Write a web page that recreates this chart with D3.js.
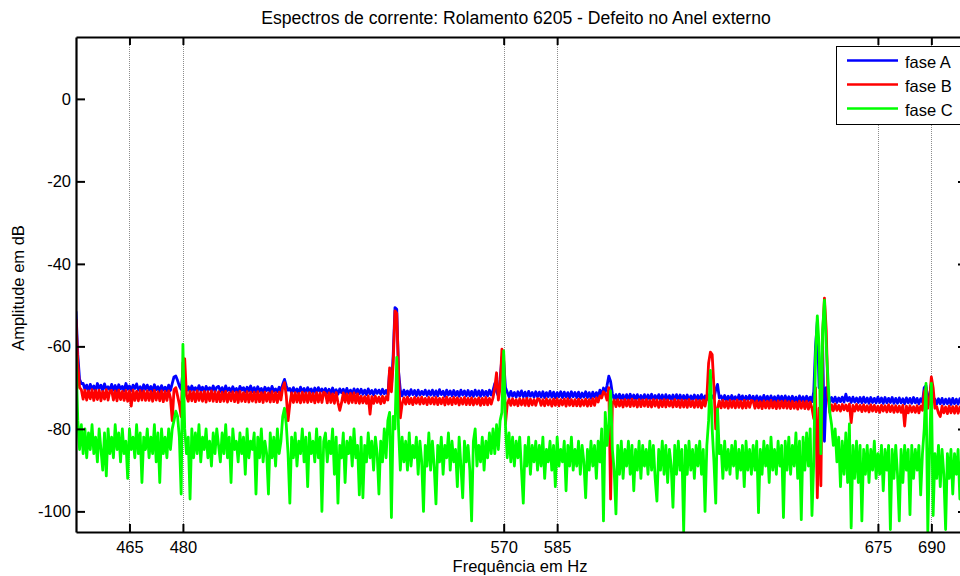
<!DOCTYPE html>
<html>
<head>
<meta charset="utf-8">
<script src="https://cdn.jsdelivr.net/npm/d3@7"></script>
<style>
  body { margin: 0; background: #fff; }
  text { font-family: "Liberation Sans", Arial, Helvetica, sans-serif; fill: #000; }
</style>
</head>
<body>
<svg id="chart" width="960" height="576"></svg>
<script>
// Spectrum sampling grid (Hz)
const freqStart = 450;
const freqStep = 0.5;

// Amplitude in dB, one row per 10 Hz
const faseA = [
  -51.5,-62,-68,-69,-69,-70.4,-69.4,-70.9,-69.2,-70.4,-69.6,-70.8,-69,-70.2,-69.4,-70.7,-69.1,-70.4,-69.8,-70.6,
  -69.2,-70.6,-69.5,-70.9,-69.3,-70.3,-69.7,-70.8,-69,-70.4,-69.6,-70.7,-69.4,-70.2,-69.1,-70.6,-69.8,-70.9,-69.3,-70.4,
  -69.4,-70.6,-69.7,-70.9,-69.3,-70.5,-69.8,-71,-69.5,-70.6,-69.9,-70.8,-69.4,-70.7,-69,-67.4,-67.2,-68.3,-69.6,-70.4,
  -66,-70,-70.7,-69.8,-71,-69.6,-70.6,-70,-70.9,-69.5,-70.7,-69.9,-71.1,-69.7,-70.6,-70,-70.8,-69.6,-70.9,-69.9,
  -69.7,-70.9,-70,-71.2,-69.6,-70.7,-70.1,-71,-69.8,-70.8,-70.2,-71.3,-69.7,-70.6,-70,-71.1,-69.9,-70.8,-69.6,-71,
  -70,-71.1,-69.8,-70.9,-70.2,-71.3,-69.9,-70.7,-70.1,-71.2,-69.7,-70.9,-70.3,-71,-69.9,-70.8,-69.2,-68,-69.6,-70.6,
  -70.2,-71.3,-70,-71.1,-70.3,-71.4,-69.9,-71,-70.2,-71.3,-70,-70.9,-70.3,-71.5,-70.1,-71.2,-70,-71,-70.3,-71.3,
  -70.2,-71.4,-70.4,-71.5,-70.1,-71.3,-70.5,-71.6,-70.3,-71.2,-70.4,-71.5,-70.2,-71.4,-70.6,-71.7,-70.3,-71.3,-70.4,-71.5,
  -70.4,-71.6,-70.6,-71.7,-70.3,-71.5,-70.7,-71.8,-70.5,-71.4,-70.6,-71.6,-70.4,-71.5,-70.7,-71.7,-66,-70,-62,-50.6,
  -51,-66,-70.6,-72,-70.6,-71.8,-70.8,-71.9,-70.5,-71.7,-70.7,-72,-70.6,-71.8,-70.9,-71.7,-70.6,-71.9,-70.8,-71.8,
  -70.6,-71.9,-70.8,-72,-70.5,-71.7,-70.9,-72.1,-70.6,-71.8,-70.8,-72,-70.7,-71.9,-70.9,-72.1,-70.6,-71.8,-70.8,-72,
  -70.7,-72,-70.9,-72.1,-70.6,-71.9,-70.8,-72.1,-70.7,-71.9,-70.9,-72,-70.6,-71.8,-70.7,-69,-71,-72,-68,-62.7,
  -63.5,-70,-71.1,-72.2,-70.9,-72.1,-71.2,-72.3,-71,-72.1,-70.8,-72.2,-71.1,-72.4,-70.9,-72.1,-71.2,-72.3,-71,-72.2,
  -71.1,-72.3,-71,-72.4,-71.2,-72.2,-70.9,-72.3,-71.1,-72.5,-71.2,-72.2,-71,-72.4,-71.1,-72.3,-71.2,-72.5,-71,-72.2,
  -71.2,-72.4,-71.1,-72.5,-71.3,-72.3,-71,-72.4,-71.2,-72.6,-71.1,-72.3,-71.2,-72.4,-70.6,-71.8,-70.1,-71.1,-69.5,-67.2,
  -68.5,-71.5,-72.9,-71.7,-73,-71.6,-72.8,-71.8,-73.1,-71.7,-72.9,-71.6,-73,-71.8,-72.8,-71.7,-73.1,-71.9,-72.9,-71.7,
  -73,-71.8,-72.9,-71.6,-73.1,-71.9,-72.8,-71.7,-73,-71.8,-73.2,-71.7,-72.9,-71.9,-73,-71.8,-73.1,-71.7,-72.9,-71.8,
  -73.1,-71.9,-73,-71.8,-73.2,-72,-72.9,-71.8,-73.1,-71.9,-73,-71.7,-73.2,-72,-72.9,-71.8,-73.1,-72,-72.5,-70.5,
  -69.2,-72.5,-72,-73.2,-71.9,-73.1,-72.1,-73.3,-71.9,-73,-72.2,-73.2,-71.8,-73.1,-72,-73.3,-72.1,-73,-71.9,-73.2,
  -72.1,-73.3,-72,-73.2,-72.2,-73.4,-71.9,-73.1,-72.1,-73.3,-72,-73.2,-72.2,-73.4,-72,-73.1,-72.1,-73.3,-72,-73.2,
  -72.2,-73.4,-72.1,-73.3,-72.3,-73.5,-72,-73.2,-72.2,-73.4,-72.1,-73.3,-72.3,-73.4,-71,-60,-54,-70,-68,-60,
  -83,-70,-72.5,-73.6,-72.4,-73.5,-72.3,-73.6,-72.5,-73.4,-72.3,-73.5,-71.6,-73.2,-72.4,-73.6,-72.3,-73.5,-72.5,-73.6,
  -72.4,-73.7,-72.3,-73.6,-72.5,-73.8,-72.4,-73.6,-72.6,-73.7,-72.3,-73.6,-72.5,-73.8,-72.4,-73.7,-72.6,-73.6,-72.4,-73.8,
  -72.6,-73.8,-72.5,-73.7,-72.7,-73.9,-72.5,-73.7,-72.6,-73.8,-72.4,-73.7,-72.6,-73.9,-72.7,-73.5,-70,-69.5,-73,-72,
  -69,-72.5,-72.8,-74,-72.7,-73.9,-72.6,-74,-72.8,-73.9,-72.7,-74.1,-72.6,-73.9,-72.8,-74,-72.7,-73.9,-72.6,-74
];

const faseB = [
  -53.4,-64,-70,-70.5,-72.8,-70.6,-73,-70.8,-72.7,-70.5,-73.1,-70.7,-72.9,-70.6,-73.2,-70.9,-72.8,-70.5,-73,-70.8,
  -70.7,-73,-70.8,-73.2,-70.6,-72.9,-70.9,-73.1,-70.7,-73.3,-70.8,-74.5,-70.6,-73.1,-70.9,-73.2,-70.7,-73,-70.8,-73.1,
  -70.8,-73.1,-70.9,-73.3,-70.7,-73,-71,-73.2,-70.8,-73.4,-70.9,-73.1,-70.8,-72.5,-78,-70.5,-70,-72,-74,-77,
  -64,-63,-72,-73.3,-70.9,-73.2,-71,-73.4,-70.8,-73.1,-71.1,-73.3,-70.9,-73.5,-71,-73.2,-70.8,-73.3,-71,-73.4,
  -71,-73.4,-71.1,-73.3,-70.9,-73.5,-71.2,-73.2,-71,-73.4,-71.1,-73.6,-70.9,-73.3,-71.2,-73.4,-71,-73.5,-71.1,-73.3,
  -71.1,-73.5,-71,-73.4,-71.2,-73.6,-71.1,-73.3,-71.3,-73.5,-71,-73.4,-71.2,-73.6,-71.1,-73,-70,-68.8,-72,-78,
  -74,-71.3,-73.6,-71.2,-73.5,-71.4,-73.7,-71.1,-73.5,-71.3,-73.6,-71.2,-73.4,-71.4,-73.7,-71.2,-73.5,-71.3,-73.6,-71.1,
  -71.4,-73.7,-71.3,-73.6,-71.5,-73.8,-71.2,-73.6,-75.5,-73.7,-71.3,-73.5,-71.5,-73.8,-71.4,-73.6,-71.3,-73.7,-71.5,-73.8,
  -72.1,-73.7,-72.2,-73.8,-72,-76.4,-72.2,-73.8,-72.1,-73.6,-72.3,-73.9,-72.1,-73.7,-72.2,-73,-65.2,-71,-64,-51.4,
  -52,-66,-77.3,-74,-72.5,-74,-72.3,-73.9,-72.6,-74.1,-72.4,-73.8,-72.5,-74,-72.3,-73.9,-72.6,-74.1,-72.4,-73.9,
  -72.5,-74,-72.4,-74.1,-72.6,-73.9,-72.5,-74.2,-72.3,-74,-72.6,-74.1,-72.4,-73.9,-72.5,-74.2,-72.6,-74,-72.4,-74.1,
  -72.6,-74.1,-72.5,-74.2,-72.7,-74,-72.5,-74.3,-72.6,-74.1,-72.4,-74.2,-72.6,-74,-72.5,-70,-66.4,-73,-70,-60.7,
  -62,-78.8,-74,-72.8,-74.3,-72.7,-74.2,-72.9,-74.4,-72.7,-74.2,-72.8,-74.3,-72.6,-74.4,-72.8,-74.2,-72.9,-74.3,-72.7,
  -72.8,-74.3,-72.9,-74.4,-72.7,-74.2,-72.9,-74.5,-72.8,-74.3,-72.7,-74.4,-72.9,-74.2,-72.8,-74.5,-72.7,-74.3,-72.9,-74.4,
  -72.9,-74.4,-72.8,-74.5,-73,-74.3,-72.8,-74.5,-72.9,-74.4,-72.7,-74.3,-72.5,-73.5,-72,-72.5,-71,-71.5,-73,-70,
  -97,-74,-73,-74.6,-72.9,-74.5,-73.1,-74.7,-72.9,-74.5,-73,-74.6,-72.8,-74.5,-73.1,-74.7,-72.9,-74.6,-73,-74.5,
  -72.9,-74.6,-73.1,-74.7,-72.9,-74.5,-73,-74.8,-73.1,-74.6,-72.9,-74.7,-73,-74.5,-73.2,-74.7,-72.9,-74.6,-73.1,-74.8,
  -73,-74.7,-73.1,-74.8,-72.9,-74.6,-73.2,-74.8,-73,-74.7,-73.1,-74.9,-73,-74.5,-72.5,-64,-61.4,-62,-70,-80,
  -75,-73.2,-74.9,-73.1,-74.8,-73.3,-75,-73.1,-74.8,-73.2,-74.9,-73,-74.8,-73.3,-75,-73.1,-74.9,-73.2,-74.8,-73.1,
  -73.3,-75,-73.2,-74.9,-73.4,-75.1,-73.2,-74.9,-73.3,-75,-73.1,-74.9,-73.4,-75.1,-73.2,-75,-73.3,-74.9,-73.2,-75,
  -73.4,-75.1,-73.3,-75,-73.5,-75.2,-73.3,-75,-73.4,-75.1,-73.3,-75.2,-73.5,-75,-77.5,-70,-96.7,-75,-93.8,-57,
  -48.3,-56,-72,-76,-74.2,-75.6,-74,-75.5,-74.3,-75.7,-74.1,-75.4,-74.2,-75.6,-74,-78.5,-74.3,-75.7,-74.1,-75.5,
  -74.3,-75.8,-74.2,-75.7,-74.4,-75.9,-74.2,-75.7,-74.3,-75.8,-74.5,-76,-74.3,-75.7,-74.4,-75.9,-74.2,-75.8,-74.4,-76,
  -74.4,-75.9,-74.5,-76,-74.3,-79.3,-74.5,-76.1,-74.4,-75.9,-74.6,-76,-74.4,-76.1,-74.5,-75.5,-71,-70,-75,-73,
  -67.4,-70,-75,-74.6,-76.2,-77,-74.5,-76.1,-74.7,-76.3,-74.5,-76.1,-74.6,-76.2,-74.5,-76.2,-74.7,-76.1,-74.5,-76.3
];

const faseC = [
  -62.3,-78,-85,-79,-86,-80,-87,-81,-85,-79,-86,-82,-88,-80,-85,-90,-81,-91.4,-80,-86,
  -82,-87,-79,-85,-81,-88,-80,-86,-83,-92,-80,-85,-82,-87,-79,-86,-81,-93,-82,-85,
  -80,-87,-82,-86,-79,-88,-81,-93,-80,-86,-82,-87,-80,-85,-80,-78,-75.7,-77,-82,-95.8,
  -59.5,-80,-86,-82,-97,-80,-87,-81,-86,-79,-88,-82,-85,-80,-87,-83,-89,-81,-86,-80,
  -84,-88,-81,-86,-79,-87,-82,-93,-80,-85,-83,-88,-81,-86,-82,-91,-80,-87,-83,-85,
  -81,-95.8,-82,-87,-80,-88,-83,-86,-95.8,-81,-87,-82,-89,-80,-86,-83,-77,-75,-79,-86,
  -98,-82,-87,-81,-89,-83,-86,-80,-88,-82,-94,-81,-86,-83,-88,-80,-87,-82,-100,-83,
  -81,-88,-83,-86,-80,-91,-82,-98,-84,-87,-81,-93,-83,-86,-82,-89,-80,-87,-84,-96,
  -82,-96.7,-84,-88,-81,-87,-83,-90,-82,-86,-95.8,-83,-88,-80,-87,-78,-76,-101.5,-77,-80,
  -62.7,-80,-90,-82,-88,-83,-90,-81,-89,-84,-87,-82,-91,-83,-88,-100,-84,-89,-81,-90,
  -83,-89,-98.2,-84,-88,-82,-91,-84,-87,-81,-90,-83,-88,-85,-94,-82,-89,-96.7,-83,-88,
  -84,-90,-102.3,-83,-80,-89,-84,-88,-82,-90,-83,-87,-81,-86,-80,-86,-79,-85,-78,-76,
  -61.1,-79,-87,-81,-88,-82,-89,-83,-87,-82,-90,-98,-84,-89,-82,-91,-84,-88,-83,-90,
  -84,-89,-82,-92,-85,-88,-83,-90,-84,-94,-82,-89,-85,-88,-83,-95,-84,-89,-82,-90,
  -85,-89,-83,-91,-84,-88,-96.7,-85,-90,-83,-89,-84,-92,-83,-88,-80,-102.3,-76,-84,-79,
  -70.8,-85,-90,-100.6,-84,-91,-83,-92,-85,-89,-83,-91,-84,-95,-85,-90,-83,-92,-84,-89,
  -85,-91,-83,-90,-84,-92,-97.5,-85,-90,-83,-91,-84,-93,-85,-89,-99,-84,-91,-83,-90,
  -85,-104.8,-84,-91,-83,-90,-85,-92,-84,-89,-83,-91,-85,-100,-84,-78,-65.8,-80,-88,-98,
  -75.2,-86,-84,-92,-83,-90,-85,-91,-84,-89,-83,-92,-85,-90,-84,-94,-83,-90,-85,-91,
  -84,-90,-83,-100.3,-85,-91,-83,-89,-84,-93,-82,-90,-85,-91,-83,-89,-84,-101.5,-83,-90,
  -82,-91,-84,-89,-81,-92,-83,-102,-82,-90,-81,-89,-80,-101,-88,-62,-52.6,-60,-86,-56,
  -48.8,-60,-68,-76,-79,-84,-80,-88,-82,-94,-83,-91,-81,-93,-78.8,-104,-84,-92,-83,-93,
  -84,-102.3,-85,-91,-84,-93,-85,-90,-83,-92,-86,-91,-84,-95,-85,-90,-84,-104.4,-85,-92,
  -84,-91,-102.3,-85,-93,-84,-90,-85,-100.8,-84,-92,-85,-90,-84,-96,-86,-80,-69,-104.8,-85,
  -69,-101,-86,-92,-84,-94,-85,-91,-104.4,-86,-92,-85,-95.8,-86,-91,-85,-97,-86,-92,-85
];

const seriesLabels = ["fase A", "fase B", "fase C"];
const xTickValues = [465, 480, 570, 585, 675, 690];
const yTickValues = [0, -20, -40, -60, -80, -100];
const chartTitle = "Espectros de corrente: Rolamento 6205 - Defeito no Anel externo";
const xAxisLabel = "Frequência em Hz";
const yAxisLabel = "Amplitude em dB";

// ---- layout & styles ----
const seriesColors = ["#0000ff", "#ff0000", "#00ff00"];
const frame = { left: 76, right: 967, top: 37, bottom: 532 };
const labelSize = "16.5px";
const svg = d3.select("#chart");

const x = d3.scaleLinear().domain([450, 700]).range([frame.left, frame.right]);
const y = d3.scaleLinear().domain([-105, 15]).range([frame.bottom, frame.top]);
const plainNumber = d => String(d);

// vertical grid at the marked frequencies
svg.append("g")
  .selectAll("line")
  .data(xTickValues)
  .join("line")
  .attr("x1", d => Math.round(x(d)) + 0.5)
  .attr("x2", d => Math.round(x(d)) + 0.5)
  .attr("y1", frame.top)
  .attr("y2", frame.bottom)
  .attr("stroke", "#8c8c8c")
  .attr("stroke-width", 1)
  .attr("stroke-dasharray", "1,1");

// spectra
svg.append("defs").append("clipPath").attr("id", "plotClip")
  .append("rect")
  .attr("x", frame.left).attr("y", frame.top)
  .attr("width", frame.right - frame.left).attr("height", frame.bottom - frame.top);

const line = d3.line()
  .x((d, i) => x(freqStart + i * freqStep))
  .y(d => y(d));

const seriesData = [faseA, faseB, faseC];
svg.append("g")
  .attr("clip-path", "url(#plotClip)")
  .selectAll("path")
  .data(seriesData)
  .join("path")
  .attr("d", d => line(d))
  .attr("fill", "none")
  .attr("stroke", (d, i) => seriesColors[i])
  .attr("stroke-width", 2.8)
  .attr("stroke-linejoin", "round");

// axes (ticks pointing inward, box closed on all sides)
function styleAxis(g) {
  g.select(".domain").attr("stroke", "#000").attr("stroke-width", 2.2);
  g.selectAll(".tick line").attr("stroke", "#000").attr("stroke-width", 2);
  g.selectAll(".tick text").style("font-size", labelSize)
    .style("font-family", "'Liberation Sans', Arial, sans-serif");
}

svg.append("g")
  .attr("transform", `translate(0,${frame.bottom})`)
  .call(d3.axisBottom(x).tickValues(xTickValues).tickFormat(plainNumber)
    .tickSizeInner(-8).tickSizeOuter(0).tickPadding(9))
  .call(styleAxis);

svg.append("g")
  .attr("transform", `translate(0,${frame.top})`)
  .call(d3.axisTop(x).tickValues(xTickValues).tickSizeInner(-8).tickSizeOuter(0).tickFormat(""))
  .call(styleAxis);

svg.append("g")
  .attr("transform", `translate(${frame.left},0)`)
  .call(d3.axisLeft(y).tickValues(yTickValues).tickFormat(plainNumber)
    .tickSizeInner(-9).tickSizeOuter(0).tickPadding(5))
  .call(styleAxis);

svg.append("g")
  .attr("transform", `translate(${frame.right},0)`)
  .call(d3.axisRight(y).tickValues(yTickValues).tickSizeInner(-9).tickSizeOuter(0).tickFormat(""))
  .call(styleAxis);

// titles
svg.append("text")
  .attr("x", 516)
  .attr("y", 24)
  .attr("text-anchor", "middle")
  .style("font-size", "17.6px")
  .text(chartTitle);

svg.append("text")
  .attr("x", 520)
  .attr("y", 572)
  .attr("text-anchor", "middle")
  .style("font-size", labelSize)
  .text(xAxisLabel);

svg.append("text")
  .attr("transform", "translate(24,288) rotate(-90)")
  .attr("text-anchor", "middle")
  .style("font-size", labelSize)
  .text(yAxisLabel);

// legend
const legend = svg.append("g");
legend.append("rect")
  .attr("x", 836.5).attr("y", 46.5)
  .attr("width", 126).attr("height", 78)
  .attr("fill", "#fff")
  .attr("stroke", "#000")
  .attr("stroke-width", 1);

const legendRows = legend.selectAll("g.row")
  .data(seriesLabels)
  .join("g")
  .attr("class", "row")
  .attr("transform", (d, i) => `translate(0,${60.5 + i * 24})`);

legendRows.append("line")
  .attr("x1", 847).attr("x2", 898)
  .attr("y1", 0).attr("y2", 0)
  .attr("stroke", (d, i) => seriesColors[i])
  .attr("stroke-width", 2.5);

legendRows.append("text")
  .attr("x", 905)
  .attr("y", 7)
  .style("font-size", labelSize)
  .text(d => d);
</script>
</body>
</html>
